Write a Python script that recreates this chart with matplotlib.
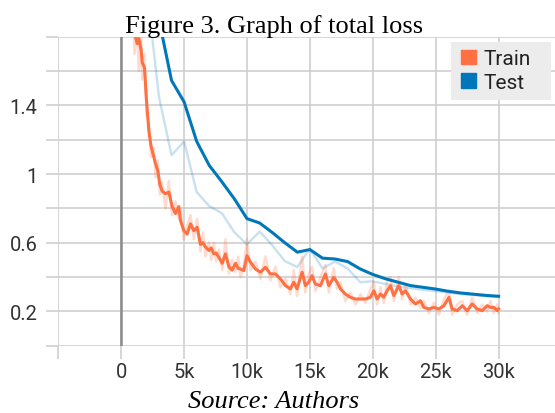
import matplotlib
matplotlib.use('Agg')
import matplotlib.pyplot as plt
from matplotlib.patches import Patch, Rectangle

# steps in thousands
train_steps = [0.8, 1.06, 1.27, 1.40, 1.59, 1.67, 1.85, 2.01, 2.2, 2.38,
               2.59, 2.73, 2.91, 3.07, 3.26, 3.52, 3.79, 4.05, 4.32, 4.58,
               4.71, 4.98, 5.24, 5.51, 5.77, 6.04, 6.3, 6.5, 6.7, 6.97,
               7.15, 7.36, 7.55, 7.76, 8.03, 8.29, 8.56, 8.82, 9.09, 9.3,
               9.48, 9.75, 10.0, 10.28, 10.67, 11.07, 11.47, 11.86, 12.26, 12.66,
               13.06, 13.45, 13.72, 13.98, 14.38, 14.64, 14.91, 15.17, 15.44, 15.84,
               16.23, 16.5, 16.9, 17.16, 17.43, 17.82, 18.22, 18.62, 19.02, 19.41,
               19.81, 20.08, 20.34, 20.61, 20.87, 21.14, 21.4, 21.67, 22.07, 22.33,
               22.6, 23.0, 23.39, 23.79, 24.06, 24.46, 24.85, 25.25, 25.65, 26.05,
               26.31, 26.71, 27.11, 27.5, 27.9, 28.3, 28.7, 29.09, 29.36, 29.62,
               29.89, 30.0]
train_loss = [2.10, 1.82, 1.76, 1.79, 1.72, 1.65, 1.62, 1.43, 1.25, 1.16,
              1.10, 1.06, 1.02, 0.94, 0.90, 0.885, 0.895, 0.81, 0.77, 0.81,
              0.73, 0.67, 0.65, 0.71, 0.67, 0.69, 0.59, 0.60, 0.575, 0.555,
              0.57, 0.535, 0.54, 0.515, 0.48, 0.535, 0.46, 0.44, 0.48, 0.45,
              0.447, 0.437, 0.525, 0.486, 0.447, 0.428, 0.457, 0.418, 0.418, 0.389,
              0.35, 0.331, 0.37, 0.331, 0.428, 0.35, 0.37, 0.408, 0.359, 0.35,
              0.418, 0.35, 0.398, 0.37, 0.331, 0.301, 0.282, 0.272, 0.272, 0.272,
              0.282, 0.32, 0.272, 0.301, 0.282, 0.32, 0.35, 0.292, 0.35, 0.301,
              0.32, 0.272, 0.243, 0.262, 0.223, 0.214, 0.223, 0.214, 0.233, 0.282,
              0.214, 0.204, 0.233, 0.204, 0.243, 0.214, 0.204, 0.233, 0.223, 0.223,
              0.204, 0.214]
train_raw = [2.20, 1.70, 1.85, 1.60, 1.80, 1.55, 1.70, 1.35, 1.30, 1.10,
             1.15, 0.98, 1.08, 0.88, 0.95, 0.80, 0.96, 0.76, 0.84, 0.74,
             0.80, 0.62, 0.70, 0.76, 0.62, 0.74, 0.55, 0.66, 0.52, 0.60,
             0.50, 0.60, 0.49, 0.56, 0.44, 0.62, 0.42, 0.50, 0.43, 0.52,
             0.40, 0.47, 0.62, 0.44, 0.49, 0.39, 0.52, 0.38, 0.46, 0.34,
             0.39, 0.30, 0.44, 0.29, 0.52, 0.31, 0.42, 0.46, 0.32, 0.40,
             0.47, 0.31, 0.45, 0.33, 0.37, 0.26, 0.31, 0.24, 0.30, 0.25,
             0.33, 0.37, 0.24, 0.34, 0.25, 0.38, 0.40, 0.26, 0.40, 0.27,
             0.36, 0.24, 0.28, 0.22, 0.26, 0.19, 0.25, 0.18, 0.27, 0.32,
             0.18, 0.24, 0.26, 0.18, 0.28, 0.19, 0.24, 0.20, 0.26, 0.19,
             0.24, 0.19]

test_steps = [2, 3, 4, 5, 6, 7, 8, 9, 10, 11, 12, 13, 14, 15, 16,
              17, 18, 19, 20, 21, 22, 23, 24, 25, 26, 27, 28, 29, 30]
test_loss = [2.40, 1.90, 1.545, 1.42, 1.19, 1.05, 0.955, 0.855, 0.74, 0.715,
             0.66, 0.60, 0.545, 0.56, 0.51, 0.505, 0.49, 0.447, 0.415, 0.39,
             0.37, 0.35, 0.34, 0.33, 0.317, 0.307, 0.30, 0.293, 0.288]
test_raw = [2.10, 1.45, 1.11, 1.19, 0.895, 0.813, 0.772, 0.66, 0.59, 0.665,
            0.586, 0.493, 0.458, 0.565, 0.45, 0.49, 0.45, 0.37, 0.375, 0.36,
            0.345, 0.335, 0.325, 0.318, 0.31, 0.30, 0.295, 0.288, 0.285]

x_ticks = [-5, 0, 5, 10, 15, 20, 25, 30]
x_labels = ['', '0', '5k', '10k', '15k', '20k', '25k', '30k']
y_ticks = [0, 0.2, 0.4, 0.6, 0.8, 1.0, 1.2, 1.4, 1.6, 1.8]
y_labels = ['', '0.2', '', '0.6', '', '1', '', '1.4', '', '']

plt.rcParams['font.family'] = ['Roboto', 'DejaVu Sans']

W, H = 555, 414
fig = plt.figure(figsize=(W / 100, H / 100), dpi=100)
ax = fig.add_axes([58.3 / W, 1 - 346.7 / H, (W - 58.3) / W, (346.7 - 37.7) / H])

orange = '#ff7043'
blue = '#0077bb'

ax.plot(test_steps, test_raw, color=blue, alpha=0.22, lw=1.7, zorder=2)
ax.plot(train_steps, train_raw, color=orange, alpha=0.25, lw=1.8, zorder=3)
ax.plot(test_steps, test_loss, color=blue, lw=2.2, zorder=4)
ax.plot(train_steps, train_loss, color=orange, lw=2.2, zorder=5)

ax.axvline(0, color='#8a8a8a', lw=1.8, zorder=1)

ax.set_xlim(-5, -5 + 5 * (W - 58.3) / 62.9)
ax.set_ylim(0, 1.8)
ax.set_xticks(x_ticks)
ax.set_xticklabels(x_labels)
ax.set_yticks(y_ticks)
ax.set_yticklabels(y_labels)
ax.grid(True, color='#cfcfcf', lw=1.2, zorder=0)
ax.set_axisbelow(True)
for s in ax.spines.values():
    s.set_visible(False)
ax.tick_params(axis='both', length=9, width=1.2, color='#cfcfcf',
               labelsize=14.5, labelcolor='#333333')
ax.tick_params(axis='y', pad=6)
ax.tick_params(axis='x', pad=3)

# legend: grey box drawn separately, entries on top
fig.patches.append(Rectangle((451 / W, 1 - 101 / H), 100 / W, 58 / H,
                             transform=fig.transFigure, facecolor='#ececec',
                             edgecolor='none', zorder=10))
handles = [Patch(color=orange, label='Train'), Patch(color=blue, label='Test')]
leg = fig.legend(handles=handles, loc='upper left',
                 bbox_to_anchor=(455 / W, 1 - 44 / H), borderaxespad=0,
                 fontsize=15, handlelength=0.7, handleheight=0.7,
                 handletextpad=0.35, labelspacing=0.22, borderpad=0.3,
                 frameon=False)
leg.set_zorder(11)
for t in leg.get_texts():
    t.set_color('#222222')

fig.text(274 / W, 1 - 27 / H, 'Figure 3. Graph of total loss',
         family='Liberation Serif', fontsize=19, ha='center', va='center',
         color='black')
fig.text(274 / W, 1 - 402 / H, 'Source: Authors', family='Liberation Serif',
         style='italic', fontsize=19, ha='center', va='center', color='black')

fig.savefig('out.png', dpi=100)
